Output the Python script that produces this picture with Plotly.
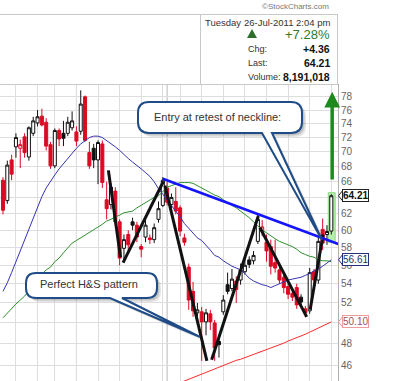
import math
import plotly.graph_objects as go

# ---------------- data ----------------
opens = [66.2, 63.6, 68.9, 70.7, 70.5, 72.1, 69.3, 72.6, 74.1, 75.1,
         74.2, 71.0, 68.1, 73.0, 72.6, 72.6, 73.4, 72.8, 72.9, 78.0,
         69.9, 70.5, 68.9, 71.1, 63.7, 63.1, 64.8, 61.0, 57.9, 59.5,
         61.0, 60.6, 58.1, 59.2, 59.1, 58.9, 61.3, 63.0, 65.2, 63.1,
         63.5, 62.7, 59.1, 55.8, 53.2, 51.0, 51.1, 50.1, 50.9, 50.0,
         48.2, 51.1, 53.9, 53.5, 54.3, 54.4, 55.3, 56.6, 56.5, 58.7,
         59.9, 58.6, 58.1, 56.3, 55.5, 54.7, 53.7, 53.0, 53.6, 52.6,
         51.4, 51.2, 55.3, 54.4, 60.1, 59.5, 59.9]
highs = [66.6, 68.8, 69.6, 72.6, 71.7, 72.6, 73.6, 75.0, 76.0, 76.2,
         74.8, 71.4, 73.3, 73.3, 74.4, 75.0, 75.8, 73.6, 79.0, 78.2,
         71.4, 71.1, 71.6, 71.6, 66.0, 65.8, 65.3, 61.3, 59.5, 60.0,
         61.5, 61.0, 58.4, 61.3, 59.5, 60.8, 63.5, 66.6, 66.0, 64.5,
         65.3, 63.0, 59.6, 56.2, 54.2, 52.0, 51.6, 51.4, 51.3, 50.3,
         48.8, 52.8, 55.2, 55.6, 54.8, 56.2, 56.9, 57.0, 57.6, 61.9,
         61.2, 59.5, 58.9, 58.9, 56.0, 55.2, 54.0, 53.4, 54.0, 52.9,
         51.7, 55.7, 55.6, 59.2, 61.4, 60.6, 64.4]
lows = [61.9, 63.2, 66.2, 69.2, 67.8, 69.2, 68.8, 72.2, 73.6, 73.6,
        70.2, 67.7, 67.8, 70.8, 70.8, 72.2, 73.0, 70.8, 72.4, 71.4,
        67.7, 67.8, 65.7, 65.2, 61.3, 62.5, 60.5, 56.0, 56.3, 57.6,
        60.0, 58.6, 56.9, 58.6, 58.4, 58.5, 60.9, 62.8, 63.0, 62.6,
        61.9, 59.3, 58.2, 51.3, 50.6, 50.2, 46.4, 48.8, 49.3, 46.4,
        46.7, 50.8, 52.9, 53.2, 52.0, 53.9, 55.0, 55.7, 56.1, 58.4,
        59.3, 56.4, 55.0, 55.2, 54.0, 53.0, 52.4, 52.2, 51.4, 51.6,
        50.6, 50.9, 53.8, 54.0, 57.7, 58.3, 59.5]
closes = [62.4, 68.2, 67.0, 72.0, 71.0, 69.9, 73.4, 74.4, 75.0, 73.8,
          70.8, 68.1, 73.0, 71.8, 71.9, 74.2, 74.4, 71.5, 76.9, 71.6,
          68.1, 68.9, 71.3, 65.9, 62.6, 65.3, 61.0, 56.8, 58.9, 58.3,
          60.6, 59.2, 57.8, 60.6, 58.9, 60.3, 62.6, 66.2, 63.4, 64.0,
          62.3, 59.9, 58.6, 52.3, 51.2, 51.3, 50.1, 51.0, 50.1, 47.6,
          47.9, 52.3, 53.2, 54.5, 53.4, 55.5, 56.0, 56.1, 57.1, 61.3,
          60.4, 57.6, 55.9, 55.7, 54.4, 53.6, 52.9, 52.6, 51.8, 52.1,
          51.0, 55.2, 54.4, 58.7, 58.5, 59.85, 64.21]
prev_close_before = 66.9

ma_blue = [53.2, 54.1, 55.2, 56.4, 57.6, 58.8, 60.2, 61.6, 62.9, 64.1,
           65.2, 66.1, 66.9, 67.7, 68.4, 69.1, 69.8, 70.5, 71.1, 71.6,
           72.0, 72.2, 72.2, 72.0, 71.6, 71.2, 70.7, 70.2, 69.6, 69.1,
           68.6, 68.2, 67.7, 67.2, 66.7, 66.0, 65.1, 64.4, 63.7, 63.0,
           62.3, 61.6, 60.8, 60.2, 59.7, 59.1, 58.8, 58.3, 57.7, 57.1,
           56.9, 56.5, 56.2, 55.9, 55.7, 55.5, 55.1, 54.6, 54.3, 54.1,
           53.9, 53.8, 53.6, 53.8, 54.0, 54.2, 54.4, 54.5, 54.6, 54.7,
           54.9, 55.1, 55.4, 55.6, 55.9, 56.3, 56.61]
ma_green = [50.5, 51.0, 51.4, 51.9, 52.3, 52.7, 53.3, 53.9, 54.4, 55.0,
            55.5, 55.8, 56.4, 56.8, 57.4, 58.0, 58.5, 58.8, 59.1, 59.5,
            59.8, 60.1, 60.4, 60.7, 61.1, 61.3, 61.6, 61.8, 62.1, 62.2,
            62.3, 62.7, 63.0, 63.4, 63.7, 64.0, 64.2, 64.7, 65.3, 65.5,
            65.7, 65.9, 65.9, 65.9, 65.8, 65.5, 65.3, 65.0, 64.6, 64.3,
            64.1, 63.7, 63.3, 63.0, 62.7, 62.3, 62.0, 61.5, 61.0, 60.5,
            60.0, 59.7, 59.3, 59.0, 58.7, 58.5, 58.3, 58.1, 57.8, 57.4,
            57.2, 57.0, 56.9, 56.6, 56.5, 56.5, 56.4]
ma_red_start = 38
ma_red = [44.0, 44.15, 44.3, 44.45, 44.6, 44.75, 44.9, 45.1, 45.25, 45.4,
          45.55, 45.7, 45.85, 46.0, 46.15, 46.3, 46.45, 46.55, 46.7, 46.85,
          47.0, 47.1, 47.25, 47.4, 47.55, 47.75, 47.9, 48.05, 48.25, 48.4,
          48.55, 48.75, 48.9, 49.1, 49.3, 49.5, 49.7, 49.9, 50.1]

hs_segments = [
    [(24.4, 67.5), (27.2, 56.9)],
    [(27.8, 56.3), (37.1, 66.0)],
    [(37.5, 65.5), (47.2, 46.4)],
    [(48.3, 46.5), (59.1, 61.7)],
    [(59.5, 60.3), (70.3, 50.6)],
    [(71.1, 51.3), (74.1, 59.5)],
]
neckline = [(37.0, 66.4), (77.6, 58.4)]
target_x, target_from, target_to = 76.2, 66.1, 78.8
highlight_x, highlight_lo, highlight_hi = (75.3, 76.9), 58.6, 64.6

week_lines = [3, 8, 12, 17, 22, 27, 32, 37, 41, 46, 51, 56, 61, 66, 71, 76]
month_lines = [17, 38, 61]
ytick_vals = [46, 48, 50, 52, 54, 56, 58, 60, 62, 64, 66, 68, 70, 72, 74, 76, 78]
ytick_text = ["46", "48", "", "52", "54", "56", "58", "60", "62", "", "66", "68", "70", "72", "74", "76", "78"]

info_day, info_date, info_time = "Tuesday", "26-Jul-2011", "2:04 pm"
info_pct, info_chg, info_last, info_vol = "+7.28%", "+4.36", "64.21", "8,191,018"
last_price, blue_last, red_last = 64.21, 56.61, 50.10

# ---------------- styling / geometry ----------------
W, H = 400, 381
PL, PT, PW, PH = 0, 84, 338, 297
Y_LO, Y_HI = 44.6, 80.0
RED = "#dc0a24"
GRID = "#dedede"
FONT = "Liberation Sans, Arial, sans-serif"


def px(X):
    return (X - PL) / PW


def py(Y):
    return (PT + PH - Y) / PH


def price_paper(v):
    return (math.log10(v) - math.log10(Y_LO)) / (math.log10(Y_HI) - math.log10(Y_LO))


fig = go.Figure()

# candles: colour by close vs previous close, fill by close vs open
prev = [prev_close_before] + closes[:-1]
idx = list(range(len(closes)))
red_ids = [i for i in idx if closes[i] < prev[i]]
blk_ids = [i for i in idx if closes[i] >= prev[i]]


def pick(lst, ids):
    return [lst[i] for i in ids]


for ids, col in ((blk_ids, "#111111"), (red_ids, RED)):
    fig.add_trace(go.Candlestick(
        x=ids, open=pick(opens, ids), high=pick(highs, ids),
        low=pick(lows, ids), close=pick(closes, ids),
        increasing=dict(line=dict(color=col, width=1), fillcolor="white"),
        decreasing=dict(line=dict(color=col, width=1), fillcolor=col),
        whiskerwidth=0, hoverinfo="skip", showlegend=False))

# moving averages
fig.add_trace(go.Scatter(x=idx, y=ma_green, mode="lines",
                         line=dict(color="#2f8f2f", width=1), hoverinfo="skip"))
fig.add_trace(go.Scatter(x=idx, y=ma_blue, mode="lines",
                         line=dict(color="#3535b0", width=1), hoverinfo="skip"))
red_x = list(range(ma_red_start, ma_red_start + len(ma_red)))
fig.add_trace(go.Scatter(x=red_x, y=ma_red, mode="lines",
                         line=dict(color="#ff2b2b", width=1), hoverinfo="skip"))

# hand-drawn pattern lines
for seg in hs_segments:
    fig.add_trace(go.Scatter(x=[p[0] for p in seg], y=[p[1] for p in seg], mode="lines",
                             line=dict(color="#111111", width=3), hoverinfo="skip"))
fig.add_trace(go.Scatter(x=[p[0] for p in neckline], y=[p[1] for p in neckline], mode="lines",
                         line=dict(color="#1414ff", width=2.5), hoverinfo="skip"))

shapes = []
# highlight on last bar
shapes.append(dict(type="rect", xref="x", yref="y", x0=highlight_x[0], x1=highlight_x[1],
                   y0=highlight_lo, y1=highlight_hi, fillcolor="#b6eeaa",
                   line=dict(color="#8fd88a", width=1), layer="between"))
# month lines
for m in month_lines:
    shapes.append(dict(type="line", xref="x", yref="paper", x0=m, x1=m, y0=0, y1=1,
                       line=dict(color="#b9b9b9", width=1), layer="between"))
# header frame
hdr = "#c8c8c8"
shapes += [
    dict(type="line", xref="paper", yref="paper", x0=px(0), x1=px(338), y0=py(14.5), y1=py(14.5),
         line=dict(color=hdr, width=1)),
    dict(type="line", xref="paper", yref="paper", x0=px(0), x1=px(338), y0=py(84.5), y1=py(84.5),
         line=dict(color=hdr, width=1)),
    dict(type="line", xref="paper", yref="paper", x0=px(200.5), x1=px(200.5), y0=py(14), y1=py(84),
         line=dict(color=hdr, width=1)),
    dict(type="line", xref="paper", yref="paper", x0=px(337.5), x1=px(337.5), y0=py(14), y1=py(84),
         line=dict(color=hdr, width=1)),
]
# green up triangle in the info box
shapes.append(dict(type="path", xref="paper", yref="paper",
                   path=f"M{px(247)},{py(38)} L{px(257)},{py(38)} L{px(252)},{py(29)} Z",
                   fillcolor="#2d6e2d", line=dict(width=0)))


def callout(x0, y0, x1, y1, r, bl, br, tip, dx=0.0, dy=0.0):
    def P(X, Y):
        return f"{px(X + dx):.5f},{py(Y + dy):.5f}"
    return (f"M{P(x0 + r, y0)} L{P(x1 - r, y0)} Q{P(x1, y0)} {P(x1, y0 + r)} "
            f"L{P(x1, y1 - r)} Q{P(x1, y1)} {P(x1 - r, y1)} L{P(br, y1)} L{P(*tip)} "
            f"L{P(bl, y1)} L{P(x0 + r, y1)} Q{P(x0, y1)} {P(x0, y1 - r)} "
            f"L{P(x0, y0 + r)} Q{P(x0, y0)} {P(x0 + r, y0)} Z")


callouts = [
    (138, 102, 302, 133, 11, 262, 272, (322, 240)),
    (26, 273, 157, 298, 10, 110, 122, (200, 337)),
]
for c in callouts:
    for off, a in ((4, 0.10), (2.5, 0.14)):
        shapes.append(dict(type="path", xref="paper", yref="paper",
                           path=callout(*c, dx=off, dy=off),
                           fillcolor=f"rgba(0,0,0,{a})", line=dict(width=0), layer="above"))
    shapes.append(dict(type="path", xref="paper", yref="paper", path=callout(*c),
                       fillcolor="white", line=dict(color="#1f4c86", width=2), layer="above"))

annotations = []


def txt(X, Y, s, size=10, color="#333", anchor="left", bold=False):
    annotations.append(dict(xref="paper", yref="paper", x=px(X), y=py(Y),
                            text=f"<b>{s}</b>" if bold else s, showarrow=False,
                            xanchor=anchor, yanchor="middle",
                            font=dict(size=size, color=color, family=FONT)))


txt(295, 7, "©StockCharts.com", size=8, color="#777", anchor="center")
txt(203, 23, info_day, size=9.5)
txt(268, 23, info_date, size=9.5, anchor="center")
txt(332, 23, info_time, size=9.5, anchor="right")
txt(332, 34, info_pct, size=13, color="#2e7a2e", anchor="right")
txt(246, 49, "Chg:", size=9)
txt(332, 49, info_chg, size=10.5, color="#111", anchor="right", bold=True)
txt(246, 63, "Last:", size=9)
txt(332, 63, info_last, size=10.5, color="#111", anchor="right", bold=True)
txt(246, 77, "Volume:", size=9)
txt(332, 77, info_vol, size=10.5, color="#111", anchor="right", bold=True)
txt(217.5, 117, "Entry at retest of neckline:", size=11, anchor="center")
txt(89, 284, "Perfect H&S pattern", size=11, anchor="center")

# measured-move arrow
annotations.append(dict(xref="x", yref="y", axref="x", ayref="y",
                        x=target_x, y=math.log10(target_to),
                        ax=target_x, ay=math.log10(target_from),
                        text="", showarrow=True, arrowhead=2, arrowsize=0.9,
                        arrowwidth=3.5, arrowcolor="#1e8a1e", standoff=0))

# price boxes on the right axis (with a small pointer on their left side)
for val, bold, bcol, tcol in ((last_price, True, "#222222", "#111111"),
                              (blue_last, False, "#23307a", "#223366"),
                              (red_last, False, "#f19a9a", "#9a5555")):
    s = f"{val:.2f}"
    annotations.append(dict(xref="paper", yref="y", x=px(342), y=math.log10(val),
                            text=f"<b>{s}</b>" if bold else s, showarrow=False,
                            xanchor="left", yanchor="middle", bgcolor="white",
                            bordercolor=bcol, borderwidth=1, borderpad=0,
                            font=dict(size=10, color=tcol, family=FONT)))
    yc = price_paper(val)
    dyp = 5.0 / PH
    shapes.append(dict(type="path", xref="paper", yref="paper",
                       path=f"M{px(342.5)},{yc + dyp} L{px(338.5)},{yc} L{px(342.5)},{yc - dyp}",
                       line=dict(color=bcol, width=1), fillcolor="white", layer="above"))

fig.update_layout(
    width=W, height=H,
    margin=dict(l=PL, r=W - PL - PW, t=PT, b=H - PT - PH, autoexpand=False),
    paper_bgcolor="white", plot_bgcolor="white", showlegend=False,
    boxgap=0.3, boxgroupgap=0, boxmode="overlay",
    font=dict(family=FONT),
    shapes=shapes, annotations=annotations,
)
fig.update_xaxes(range=[-0.69, 77.55], rangeslider_visible=False, showticklabels=False,
                 tickmode="array", tickvals=week_lines, showgrid=True, gridcolor=GRID,
                 gridwidth=1, zeroline=False, showline=False, ticks="")
fig.update_yaxes(type="log", side="right", range=[math.log10(Y_LO), math.log10(Y_HI)],
                 tickmode="array", tickvals=ytick_vals, ticktext=ytick_text,
                 showgrid=True, gridcolor=GRID, gridwidth=1, zeroline=False,
                 showline=True, linecolor="#b0b0b0", linewidth=1, ticks="",
                 tickfont=dict(size=10, color="#666", family=FONT))

fig.write_html("out.html", config={"displayModeBar": False},
               post_script="document.body.style.margin='0';document.body.style.padding='0';")
